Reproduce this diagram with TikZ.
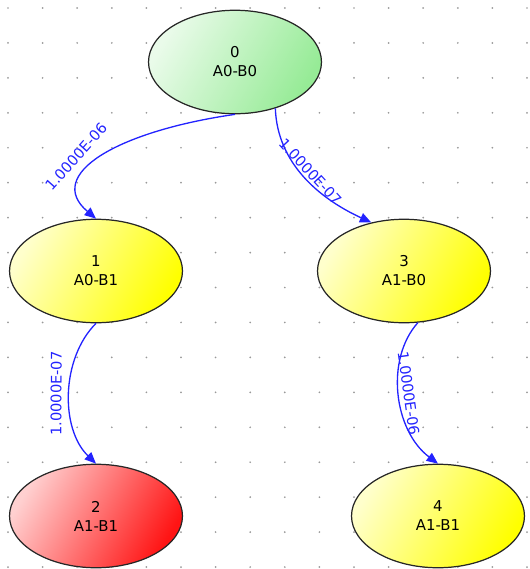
\documentclass[tikz,border=0pt]{standalone}
\usepackage{fontspec}
\setmainfont{DejaVu Sans}
\usetikzlibrary{arrows.meta,shapes.geometric}
\definecolor{stgreen}{RGB}{150,235,150}
\definecolor{styellow}{RGB}{255,255,0}
\definecolor{stred}{RGB}{255,20,20}
\definecolor{rateblue}{RGB}{35,35,255}
\tikzset{state/.style={draw=black!85,line width=0.7pt,ellipse,minimum width=3.46cm,minimum height=2.07cm,inner sep=0pt,align=center,font=\fontsize{8.5}{10.8}\selectfont}}
\tikzset{fillwith/.style={left color=#1!20!white,right color=#1,shading angle=60}}
\tikzset{rate/.style={sloped,inner sep=1pt,text=rateblue,font=\fontsize{8.3}{9}\selectfont}}

\begin{document}
\begin{tikzpicture}[x=0.02cm,y=-0.02cm,>={Triangle[length=6.5pt,width=5.5pt]}]
  \useasboundingbox (0,0) rectangle (530,569);
  \foreach \i in {0,...,15}
    \foreach \j in {0,...,16}
      \fill[black!40] ({8+34.6*\i},{8+34.94*\j}) circle (0.55pt);

  \node[state,fillwith=stgreen] (S0) at (235,62) {0\\A0-B0};
  \node[state,fillwith=styellow] (S1) at (96,271) {1\\A0-B1};
  \node[state,fillwith=styellow] (S3) at (404,271) {3\\A1-B0};
  \node[state,fillwith=stred] (S2) at (96,516) {2\\A1-B1};
  \node[state,fillwith=styellow] (S4) at (438,516) {4\\A1-B1};

  \draw[->,rateblue,line width=0.75pt] (S0.south) .. controls +(-118,17) and +(-52,-44) .. node[rate,above=5pt,pos=0.6] {1.0000E-06} (S1.north);
  \draw[->,rateblue,line width=0.75pt] (S0.-49) .. controls +(2,55) and +(-52,-24) .. node[rate,above] {1.0000E-07} (S3.124);
  \draw[->,rateblue,line width=0.75pt] (S1.south) .. controls +(-35,35) and +(-36,-35) .. node[rate,above=3pt] {1.0000E-07} (S2.north);
  \draw[->,rateblue,line width=0.75pt] (S3.-75) .. controls +(-33,37) and +(-44,-33) .. node[rate,above=1pt] {1.0000E-06} (S4.north);
\end{tikzpicture}
\end{document}
